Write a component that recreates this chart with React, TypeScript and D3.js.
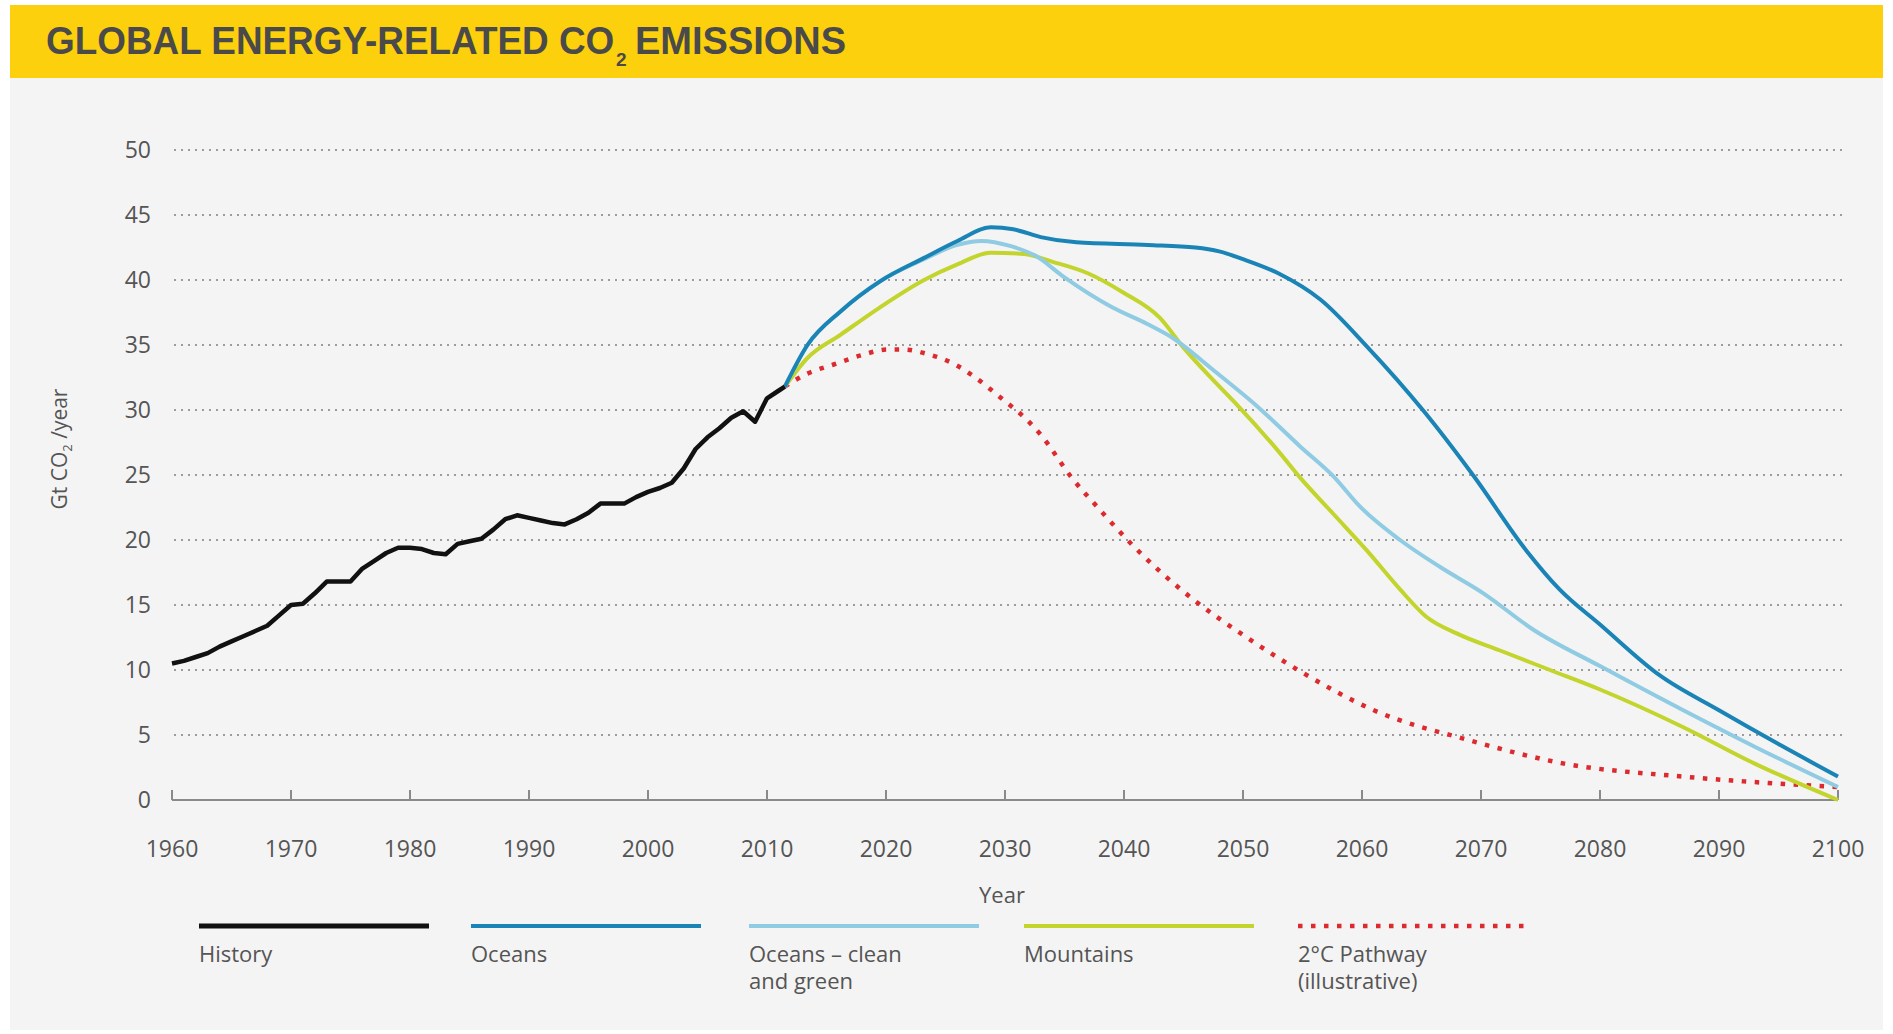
import React from "react";
import * as d3 from "d3";

type Pt = [number, number];

// history, year / Gt CO2
const historyData: Pt[] = [
  [1960, 10.5], [1961, 10.7], [1962, 11.0], [1963, 11.3], [1964, 11.8], [1965, 12.2],
  [1966, 12.6], [1967, 13.0], [1968, 13.4], [1969, 14.2], [1970, 15.0], [1971, 15.1],
  [1972, 15.9], [1973, 16.8], [1974, 16.8], [1975, 16.8], [1976, 17.8], [1977, 18.4],
  [1978, 19.0], [1979, 19.4], [1980, 19.4], [1981, 19.3], [1982, 19.0], [1983, 18.9],
  [1984, 19.7], [1985, 19.9], [1986, 20.1], [1987, 20.8], [1988, 21.6], [1989, 21.9],
  [1990, 21.7], [1991, 21.5], [1992, 21.3], [1993, 21.2], [1994, 21.6], [1995, 22.1],
  [1996, 22.8], [1997, 22.8], [1998, 22.8], [1999, 23.3], [2000, 23.7], [2001, 24.0],
  [2002, 24.4], [2003, 25.5], [2004, 27.0], [2005, 27.9], [2006, 28.6], [2007, 29.4],
  [2008, 29.9], [2009, 29.1], [2010, 30.9], [2011, 31.5], [2011.5, 31.8],
];

const oceansData: Pt[] = [
  [2011.5, 31.8], [2013.4, 35.0], [2016.2, 37.6], [2019.5, 39.9], [2023.2, 41.7], [2026, 43.0],
  [2028.8, 44.05], [2030.7, 43.9], [2033, 43.3], [2036, 42.9], [2042, 42.7], [2046, 42.5],
  [2048, 42.2], [2050, 41.6], [2053, 40.5], [2056.5, 38.5], [2060.4, 34.9], [2065.2, 29.9],
  [2069.4, 24.9], [2073.8, 19.2], [2076.6, 16.2], [2080, 13.5], [2085, 9.6], [2090, 6.9],
  [2095, 4.3], [2100, 1.8],
];

const cleanGreenData: Pt[] = [
  [2011.5, 31.8], [2013.4, 35.0], [2016.2, 37.6], [2019.5, 39.9], [2023.2, 41.6], [2026, 42.7],
  [2028, 43.0], [2030.5, 42.6], [2032.5, 41.9], [2035, 40.2], [2039, 37.9], [2042, 36.6],
  [2044, 35.6], [2047.6, 33.0], [2051.3, 30.2], [2054.8, 27.2], [2057.6, 24.9], [2059.8, 22.6],
  [2063.2, 20.0], [2066.6, 17.9], [2070.2, 15.9], [2074.4, 13.1], [2080, 10.3], [2087, 6.9],
  [2093, 4.1], [2100, 1.0],
];

const mountainsData: Pt[] = [
  [2011.5, 31.8], [2013.4, 34.0], [2016.2, 35.8], [2019.5, 37.9], [2023.2, 40.0], [2026, 41.2],
  [2028.8, 42.1], [2031.6, 42.0], [2034, 41.4], [2037, 40.5], [2040, 39.0], [2043, 37.1],
  [2045, 34.8], [2047.6, 32.2], [2049.5, 30.4], [2053, 26.8], [2054.8, 24.8], [2057.6, 22.0],
  [2060.4, 19.2], [2063.2, 16.2], [2065.4, 14.1], [2068, 12.8], [2071.6, 11.5], [2075.8, 10.0],
  [2080, 8.5], [2087, 5.6], [2093, 2.8], [2100, 0],
];

const pathwayData: Pt[] = [
  [2011.5, 31.8], [2013.4, 32.8], [2015.6, 33.5], [2017.9, 34.2], [2020.1, 34.65], [2021.5, 34.65],
  [2023.5, 34.3], [2025.8, 33.5], [2027.5, 32.5], [2029.7, 30.9], [2032, 29.1], [2033, 28.1],
  [2035.6, 24.8], [2038, 22.3], [2040.4, 19.9], [2043, 17.6], [2046, 15.3], [2050, 12.7],
  [2055, 9.8], [2061, 6.9], [2069, 4.6], [2077, 2.8], [2087, 1.8], [2100, 1.0],
];

const xTicks = [1960, 1970, 1980, 1990, 2000, 2010, 2020, 2030, 2040, 2050, 2060, 2070, 2080, 2090, 2100];
const yTicks = [0, 5, 10, 15, 20, 25, 30, 35, 40, 45, 50];

const legendItems = [
  { label: ["History"], color: "#111111", width: 5, dash: "" },
  { label: ["Oceans"], color: "#1b84b6", width: 4, dash: "" },
  { label: ["Oceans – clean", "and green"], color: "#8fcbe2", width: 4, dash: "" },
  { label: ["Mountains"], color: "#c3d42c", width: 4, dash: "" },
  { label: ["2°C Pathway", "(illustrative)"], color: "#dc2a2e", width: 4.5, dash: "4.5,8.5" },
];

const W = 1893;
const H = 1034;
const font = "'Open Sans', sans-serif";
const titleFont = "'Liberation Sans', Arial, sans-serif";

export default function App() {
  const x = d3.scaleLinear().domain([1960, 2100]).range([172, 1838]);
  const y = d3.scaleLinear().domain([0, 50]).range([800, 150]);

  const lineLinear = d3.line<Pt>().x((d) => x(d[0])).y((d) => y(d[1]));
  const lineSmooth = d3
    .line<Pt>()
    .x((d) => x(d[0]))
    .y((d) => y(d[1]))
    .curve(d3.curveMonotoneX);

  const legendX = [199, 471, 749, 1024, 1298];

  return (
    <svg width={W} height={H} style={{ position: "absolute", left: 0, top: 0 }}>
      <rect x={0} y={0} width={W} height={H} fill="#ffffff" />
      <rect x={10} y={78} width={1873} height={952} fill="#f4f4f4" />
      {/* title band */}
      <rect x={10} y={5} width={1873} height={73} fill="#fcd00c" />
      <text transform="translate(46,54) scale(0.971,1)" fontFamily={titleFont} fontWeight="bold" fontSize={38} fill="#4a4a4a">
        GLOBAL ENERGY-RELATED CO
      </text>
      <text x={616} y={66} fontFamily={titleFont} fontWeight="bold" fontSize={19} fill="#4a4a4a">
        2
      </text>
      <text x={635} y={54} fontFamily={titleFont} fontWeight="bold" fontSize={38} fill="#4a4a4a">
        EMISSIONS
      </text>

      {/* gridlines */}
      {yTicks.filter((t) => t > 0).map((t) => (
        <line key={"g" + t} x1={174} x2={1843} y1={y(t)} y2={y(t)} stroke="#9c9c9c" strokeWidth={2} strokeDasharray="2,5" />
      ))}
      {yTicks.map((t) => (
        <text key={"yl" + t} x={151} y={y(t)} dy="0.35em" textAnchor="end" fontFamily={font} fontSize={23} fill="#555">
          {t}
        </text>
      ))}

      {/* x axis */}
      <line x1={x(1960)} x2={x(2100)} y1={y(0)} y2={y(0)} stroke="#8a8a8a" strokeWidth={2} />
      {xTicks.map((t) => (
        <g key={"xt" + t}>
          <line x1={x(t)} x2={x(t)} y1={y(0)} y2={y(0) - 10} stroke="#8a8a8a" strokeWidth={2} />
          <text x={x(t)} y={849} dy="0.35em" textAnchor="middle" fontFamily={font} fontSize={23} fill="#555">
            {t}
          </text>
        </g>
      ))}
      <text x={1002} y={895} dy="0.35em" textAnchor="middle" fontFamily={font} fontSize={22} fill="#555">
        Year
      </text>
      <text transform="translate(60,449) rotate(-90)" textAnchor="middle" dy="0.35em" fontFamily={font} fontSize={21} fill="#555">
        Gt CO<tspan fontSize={13} dy={5}>2</tspan>
        <tspan dy={-5}> /year</tspan>
      </text>

      {/* series */}
      <path d={lineSmooth(pathwayData) ?? ""} fill="none" stroke="#dc2a2e" strokeWidth={4.5} strokeDasharray="4.5,8.5" />
      <path d={lineSmooth(mountainsData) ?? ""} fill="none" stroke="#c3d42c" strokeWidth={4} />
      <path d={lineSmooth(cleanGreenData) ?? ""} fill="none" stroke="#8fcbe2" strokeWidth={4} />
      <path d={lineSmooth(oceansData) ?? ""} fill="none" stroke="#1b84b6" strokeWidth={4} />
      <path d={lineLinear(historyData) ?? ""} fill="none" stroke="#111111" strokeWidth={4.5} strokeLinejoin="round" />

      {/* legend */}
      {legendItems.map((item, i) => (
        <g key={"lg" + i} transform={`translate(${legendX[i]},926)`}>
          <line x1={0} x2={230} y1={0} y2={0} stroke={item.color} strokeWidth={item.width} strokeDasharray={item.dash || undefined} />
          {item.label.map((l, j) => (
            <text key={j} x={0} y={28 + j * 27} dy="0.35em" fontFamily={font} fontSize={22} fill="#555">
              {l}
            </text>
          ))}
        </g>
      ))}
    </svg>
  );
}
